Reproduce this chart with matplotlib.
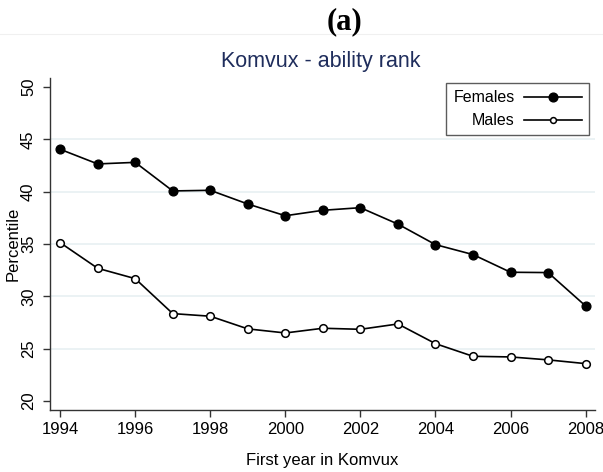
import matplotlib
matplotlib.use("Agg")
import matplotlib.pyplot as plt
from matplotlib.lines import Line2D

years = [1994, 1995, 1996, 1997, 1998, 1999, 2000, 2001, 2002, 2003, 2004, 2005, 2006, 2007, 2008]
females = [44.05, 42.65, 42.8, 40.07, 40.13, 38.82, 37.7, 38.22, 38.47, 36.9, 34.94, 33.99, 32.3, 32.27, 29.08]
males = [35.13, 32.68, 31.69, 28.35, 28.1, 26.89, 26.5, 26.95, 26.85, 27.36, 25.48, 24.27, 24.21, 23.93, 23.57]
xticks = [1994, 1996, 1998, 2000, 2002, 2004, 2006, 2008]
yticks = [20, 25, 30, 35, 40, 45, 50]
gridvals = [25, 30, 35, 40, 45]

plt.rcParams['font.family'] = ['Liberation Sans', 'DejaVu Sans']

fig = plt.figure(figsize=(6.03, 4.72), dpi=100)
ax = fig.add_axes([50 / 603, 62 / 472, 545 / 603, 332 / 472])

for g in gridvals:
    ax.axhline(g, color='#e8f0f2', lw=1.2, zorder=0)

ax.plot(years, females, color='black', lw=1.2, marker='o', ms=6.3,
        mfc='black', mec='black', zorder=3)
ax.plot(years, males, color='black', lw=1.2, marker='o', ms=5.5,
        mfc='white', mec='black', mew=1.1, zorder=3)

ax.set_xlim(1993.73, 2008.25)
ax.set_ylim(19.14, 50.86)
ax.set_xticks(xticks)
ax.set_yticks(yticks)
ax.tick_params(axis='both', direction='out', length=5, width=1, color='#333333',
               labelsize=12)
ax.tick_params(axis='x', pad=4)
ax.tick_params(axis='y', pad=5)
for lbl in ax.get_yticklabels():
    lbl.set_rotation(90)
    lbl.set_va('center')

for s in ['top', 'right']:
    ax.spines[s].set_visible(False)
for s in ['left', 'bottom']:
    ax.spines[s].set_color('#333333')
    ax.spines[s].set_linewidth(1)

ax.set_xlabel('First year in Komvux', fontsize=12)
ax.set_ylabel('Percentile', fontsize=12)
ax.xaxis.set_label_coords(0.5, -50 / 332)
ax.xaxis.label.set_va('center')
ax.yaxis.set_label_coords(-37 / 545, 0.5)
ax.yaxis.label.set_va('center')

handles = [
    Line2D([], [], color='black', lw=1.2, marker='o', ms=6.3, mfc='black', mec='black'),
    Line2D([], [], color='black', lw=1.2, marker='o', ms=4.2, mfc='white', mec='black', mew=1.1),
]
leg = ax.legend(handles, ['Females', 'Males'], loc='upper right',
                bbox_to_anchor=(589 / 603, 389 / 472), bbox_transform=fig.transFigure,
                markerfirst=False, numpoints=1, fontsize=11.5, handlelength=3.6,
                fancybox=False, frameon=True, edgecolor='#333333',
                borderpad=0.45, labelspacing=0.5, handletextpad=0.6, borderaxespad=0)
leg.get_frame().set_linewidth(1)
for t in leg.get_texts():
    t.set_ha('right')
leg._legend_box.align = 'right'

fig.text(345 / 603, 1 - 22 / 472, '(a)', ha='center', va='center',
         fontsize=22, fontweight='bold', family=['Liberation Serif', 'DejaVu Serif'])
fig.add_artist(Line2D([0, 1], [1 - 34 / 472, 1 - 34 / 472], color='#f0f0f0', lw=0.8))
fig.text(321 / 603, 1 - 62 / 472, 'Komvux - ability rank', ha='center', va='center',
         fontsize=15.5, color='#1f2d5c')

fig.savefig('out.png', dpi=100)
